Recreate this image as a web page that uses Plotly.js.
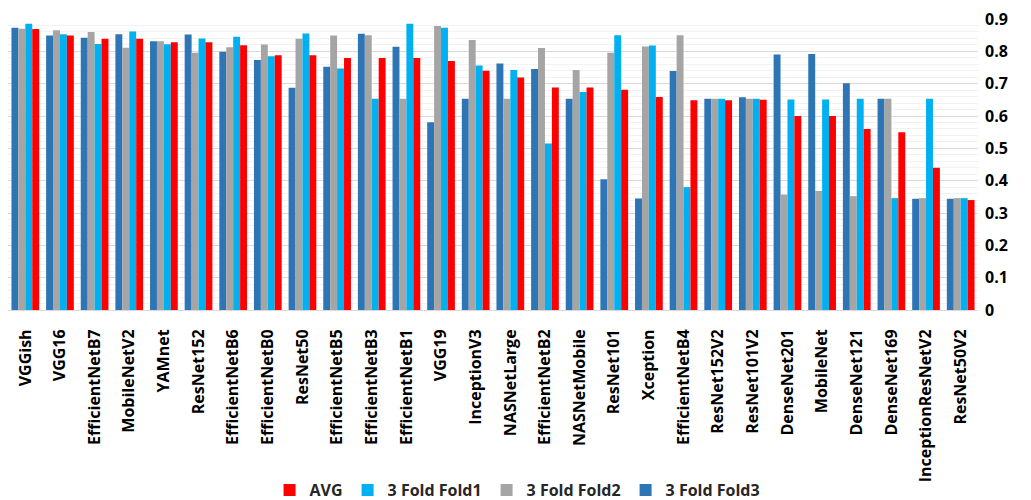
<!DOCTYPE html>
<html>
<head>
<meta charset="utf-8">
<script src="https://cdn.plot.ly/plotly-3.0.1.min.js"></script>
<style>html,body{margin:0;padding:0;background:#fff;}#chart{width:1031px;height:500px;}</style>
</head>
<body>
<div id="chart"></div>
<script>
const categories = ["VGGish","VGG16","EfficientNetB7","MobileNetV2","YAMnet","ResNet152","EfficientNetB6","EfficientNetB0","ResNet50","EfficientNetB5","EfficientNetB3","EfficientNetB1","VGG19","InceptionV3","NASNetLarge","EfficientNetB2","NASNetMobile","ResNet101","Xception","EfficientNetB4","ResNet152V2","ResNet101V2","DenseNet201","MobileNet","DenseNet121","DenseNet169","InceptionResNetV2","ResNet50V2"];

const fold3 = [0.873,0.849,0.842,0.853,0.831,0.852,0.799,0.773,0.687,0.752,0.854,0.814,0.581,0.653,0.762,0.745,0.653,0.404,0.345,0.739,0.653,0.658,0.790,0.792,0.701,0.653,0.344,0.344];
const fold2 = [0.870,0.865,0.860,0.811,0.831,0.796,0.813,0.821,0.839,0.849,0.850,0.653,0.878,0.835,0.653,0.810,0.742,0.796,0.815,0.850,0.653,0.653,0.357,0.368,0.352,0.653,0.346,0.346];
const fold1 = [0.885,0.853,0.823,0.861,0.822,0.840,0.845,0.785,0.855,0.747,0.653,0.885,0.873,0.756,0.742,0.515,0.674,0.850,0.818,0.380,0.653,0.653,0.651,0.651,0.653,0.346,0.653,0.346];
const avg   = [0.869,0.849,0.839,0.839,0.828,0.828,0.819,0.788,0.788,0.779,0.779,0.779,0.770,0.740,0.719,0.688,0.688,0.681,0.659,0.649,0.649,0.650,0.600,0.600,0.560,0.550,0.440,0.340];

const seriesNames = ["3 Fold Fold3","3 Fold Fold2","3 Fold Fold1","AVG"];
const seriesColors = ["#2E75B6","#A5A5A5","#00B0F0","#FF0000"];
const seriesData = [fold3, fold2, fold1, avg];

const traces = seriesData.map((d, i) => ({
  type: "bar",
  name: seriesNames[i],
  x: categories,
  y: d,
  marker: {color: seriesColors[i], line: {width: 0}}
}));

const fontFam = "'Open Sans', 'Noto Sans', 'DejaVu Sans', sans-serif";

const layout = {
  width: 1031,
  height: 500,
  margin: {l: 8, r: 53, t: 19, b: 190},
  paper_bgcolor: "#ffffff",
  plot_bgcolor: "#ffffff",
  barmode: "group",
  bargap: 0.2,
  bargroupgap: 0,
  showlegend: true,
  legend: {
    orientation: "h",
    traceorder: "reversed",
    xref: "container",
    yref: "container",
    x: 0.502, xanchor: "center",
    y: 0.02, yanchor: "middle",
    font: {family: fontFam, size: 16, color: "#262626", weight: "bold"},
    itemwidth: 30
  },
  xaxis: {
    type: "category",
    tickangle: -90,
    tickfont: {family: fontFam, size: 16, color: "#000000", weight: "bold"},
    showgrid: false,
    showline: true,
    linecolor: "#d9d9d9",
    linewidth: 1,
    ticks: "",
    ticklabelstandoff: 12,
    automargin: false
  },
  yaxis: {
    side: "right",
    range: [0, 0.9],
    dtick: 0.1,
    tick0: 0,
    tickfont: {family: fontFam, size: 16, color: "#000000", weight: "bold"},
    showgrid: true,
    gridcolor: "#d9d9d9",
    gridwidth: 1,
    minor: {dtick: 0.02, showgrid: true, gridcolor: "#f2f2f2", gridwidth: 1},
    zeroline: false,
    showline: false,
    ticks: "",
    ticklabelstandoff: 6,
    automargin: false
  }
};

Plotly.newPlot("chart", traces, layout, {displayModeBar: false, staticPlot: true});
</script>
</body>
</html>
